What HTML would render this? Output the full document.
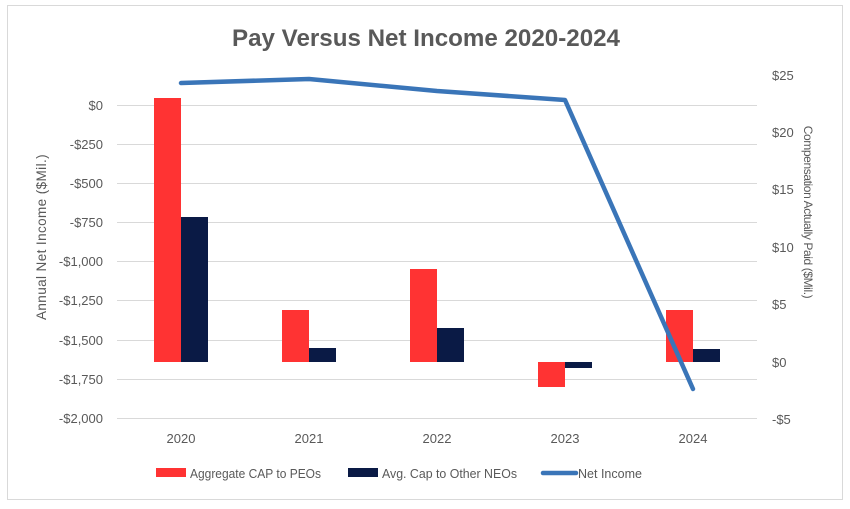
<!DOCTYPE html>
<html><head><meta charset="utf-8"><style>
html,body{margin:0;padding:0;background:#fff;}
svg{display:block;font-family:"Liberation Sans",sans-serif;}
</style></head><body>
<svg width="850" height="509" viewBox="0 0 850 509" xmlns="http://www.w3.org/2000/svg">
<rect x="7.5" y="5.5" width="835" height="494" fill="#fff" stroke="#d9d9d9" stroke-width="1"/>
<text x="426" y="46" text-anchor="middle" font-size="24" font-weight="bold" fill="#595959" textLength="388" lengthAdjust="spacingAndGlyphs">Pay Versus Net Income 2020-2024</text>
<g stroke="#d9d9d9" stroke-width="1">
<line x1="117" x2="757" y1="105.5" y2="105.5"/>
<line x1="117" x2="757" y1="144.5" y2="144.5"/>
<line x1="117" x2="757" y1="183.5" y2="183.5"/>
<line x1="117" x2="757" y1="222.5" y2="222.5"/>
<line x1="117" x2="757" y1="261.5" y2="261.5"/>
<line x1="117" x2="757" y1="300.5" y2="300.5"/>
<line x1="117" x2="757" y1="340.5" y2="340.5"/>
<line x1="117" x2="757" y1="379.5" y2="379.5"/>
<line x1="117" x2="757" y1="418.5" y2="418.5"/>
</g>
<g font-size="13" fill="#595959" text-anchor="end">
<text x="103" y="110">$0</text>
<text x="103" y="149">-$250</text>
<text x="103" y="188">-$500</text>
<text x="103" y="227">-$750</text>
<text x="103" y="266">-$1,000</text>
<text x="103" y="305">-$1,250</text>
<text x="103" y="345">-$1,500</text>
<text x="103" y="384">-$1,750</text>
<text x="103" y="423">-$2,000</text>
</g>
<g font-size="13" fill="#595959">
<text x="772" y="80">$25</text>
<text x="772" y="137">$20</text>
<text x="772" y="194">$15</text>
<text x="772" y="252">$10</text>
<text x="772" y="309">$5</text>
<text x="772" y="367">$0</text>
<text x="772" y="424">-$5</text>
</g>
<text transform="translate(46,237) rotate(-90)" text-anchor="middle" font-size="13.5" letter-spacing="0.4" fill="#595959">Annual Net Income ($Mil.)</text>
<text transform="translate(804,212) rotate(90)" text-anchor="middle" font-size="12" letter-spacing="-0.4" fill="#595959">Compensation Actually Paid ($Mil.)</text>
<g fill="#ff3333">
<rect x="154" y="98" width="27" height="264"/>
<rect x="282" y="310" width="27" height="52"/>
<rect x="410" y="269" width="27" height="93"/>
<rect x="538" y="362" width="27" height="25"/>
<rect x="666" y="310" width="27" height="52"/>
</g>
<g fill="#0a1a45">
<rect x="181" y="217" width="27" height="145"/>
<rect x="309" y="348" width="27" height="14"/>
<rect x="437" y="328" width="27" height="34"/>
<rect x="565" y="362" width="27" height="6"/>
<rect x="693" y="349" width="27" height="13"/>
</g>
<polyline points="181,83 309,79 437,91 565,100 693,389" fill="none" stroke="#3a75b8" stroke-width="4.5" stroke-linejoin="round" stroke-linecap="round"/>
<g font-size="13" fill="#595959" text-anchor="middle">
<text x="181" y="443">2020</text>
<text x="309" y="443">2021</text>
<text x="437" y="443">2022</text>
<text x="565" y="443">2023</text>
<text x="693" y="443">2024</text>
</g>
<rect x="156" y="468" width="30" height="9" fill="#ff3333"/>
<text x="190" y="478" font-size="13" fill="#595959" textLength="131" lengthAdjust="spacingAndGlyphs">Aggregate CAP to PEOs</text>
<rect x="348" y="468" width="30" height="9" fill="#0a1a45"/>
<text x="382" y="478" font-size="13" fill="#595959" textLength="135" lengthAdjust="spacingAndGlyphs">Avg. Cap to Other NEOs</text>
<line x1="543" x2="576" y1="473" y2="473" stroke="#3a75b8" stroke-width="4.5" stroke-linecap="round"/>
<text x="578" y="478" font-size="13" fill="#595959" textLength="64" lengthAdjust="spacingAndGlyphs">Net Income</text>
</svg>
</body></html>
